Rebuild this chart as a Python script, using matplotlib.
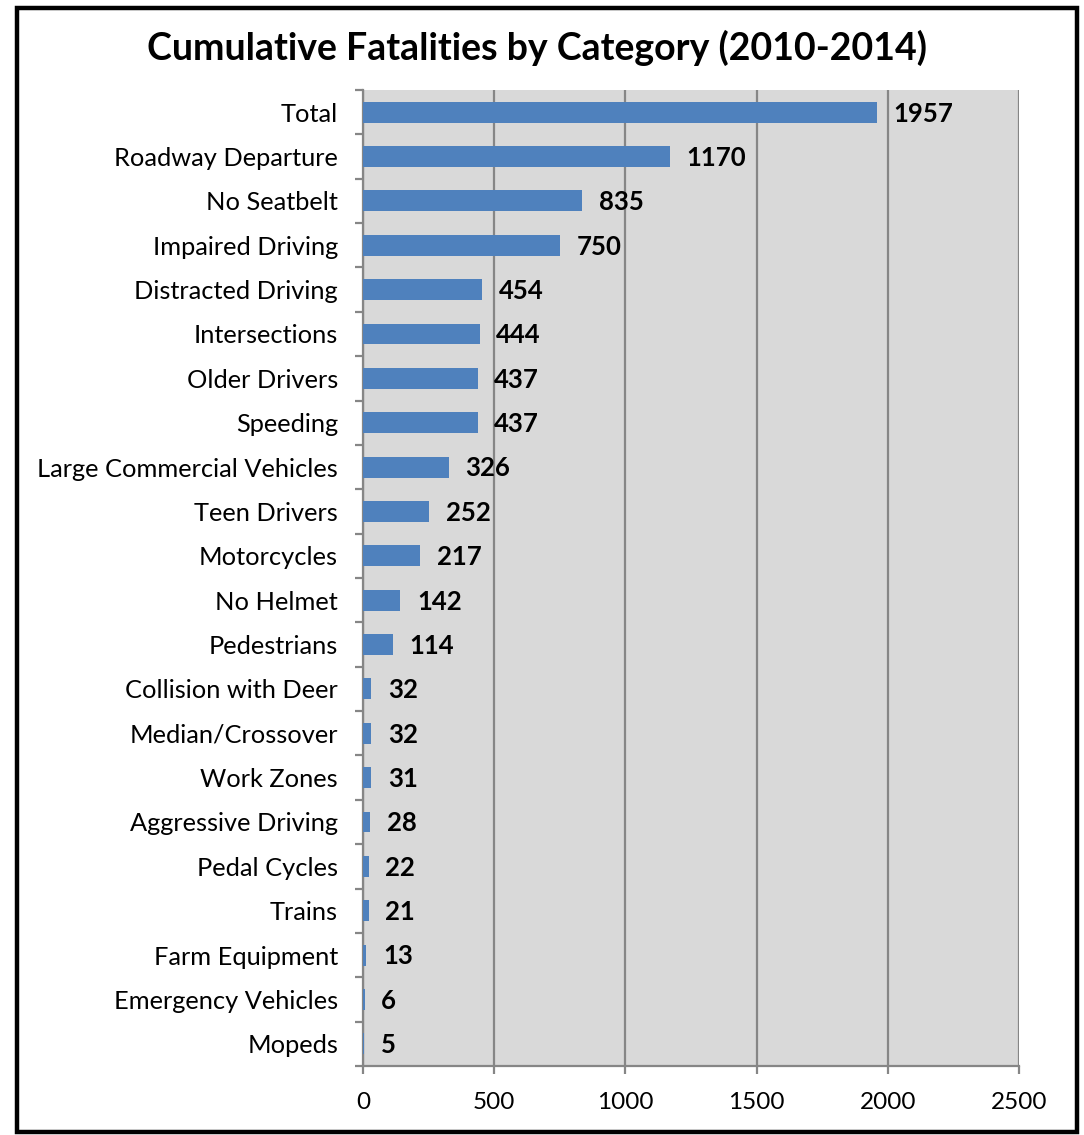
import matplotlib.pyplot as plt
from matplotlib.patches import Rectangle
from matplotlib.ticker import FixedLocator

# data
categories = ['Total', 'Roadway Departure', 'No Seatbelt', 'Impaired Driving',
              'Distracted Driving', 'Intersections', 'Older Drivers', 'Speeding',
              'Large Commercial Vehicles', 'Teen Drivers', 'Motorcycles', 'No Helmet',
              'Pedestrians', 'Collision with Deer', 'Median/Crossover', 'Work Zones',
              'Aggressive Driving', 'Pedal Cycles', 'Trains', 'Farm Equipment',
              'Emergency Vehicles', 'Mopeds']
fatalities = [1957, 1170, 835, 750, 454, 444, 437, 437, 326, 252, 217, 142,
              114, 32, 32, 31, 28, 22, 21, 13, 6, 5]
x_ticks = [0, 500, 1000, 1500, 2000, 2500]

plt.rcParams['font.family'] = ['Lato', 'DejaVu Sans']

W, H = 1084, 1135
fig = plt.figure(figsize=(W / 100, H / 100), dpi=100)
fig.patch.set_facecolor('white')

# outer black frame
fig.patches.append(Rectangle((17 / W, 1 - 1132 / H), (1077 - 17) / W, (1132 - 8) / H,
                             transform=fig.transFigure, fill=False,
                             edgecolor='black', linewidth=3.2))

ax = fig.add_axes([363 / W, 1 - 1066 / H, (1019 - 363) / W, (1066 - 90) / H])
ax.set_facecolor('#D9D9D9')

n = len(categories)
ypos = list(range(n))
ax.barh(ypos, fatalities, height=0.47, color='#4F81BD', zorder=3)

for y, v in zip(ypos, fatalities):
    ax.annotate(str(v), xy=(v, y), xytext=(12, -1), textcoords='offset points',
                va='center', ha='left', fontsize=18.5, fontweight='bold', color='black')

ax.set_xlim(0, 2500)
ax.set_ylim(n - 0.5, -0.5)
ax.xaxis.set_major_locator(FixedLocator(x_ticks))
ax.set_xticklabels([str(t) for t in x_ticks], fontsize=17.5)
ax.grid(axis='x', color='#868686', linewidth=1.6, zorder=1)

ax.set_yticks(ypos)
ax.set_yticklabels(categories, fontsize=18.3)
ax.yaxis.set_minor_locator(FixedLocator([i - 0.5 for i in range(n + 1)]))
ax.tick_params(axis='y', which='major', length=0, pad=18)
ax.tick_params(axis='y', which='minor', length=6, width=1.6, color='#868686')
ax.tick_params(axis='x', which='major', length=6, width=1.6, color='#868686', pad=13)

for side in ['top', 'right']:
    ax.spines[side].set_visible(False)
for side in ['left', 'bottom']:
    ax.spines[side].set_color('#868686')
    ax.spines[side].set_linewidth(1.6)

fig.text(537 / W, 1 - 48 / H, 'Cumulative Fatalities by Category (2010-2014)',
         ha='center', va='center', fontsize=27, fontweight='bold')

fig.savefig('out.png', dpi=100)
